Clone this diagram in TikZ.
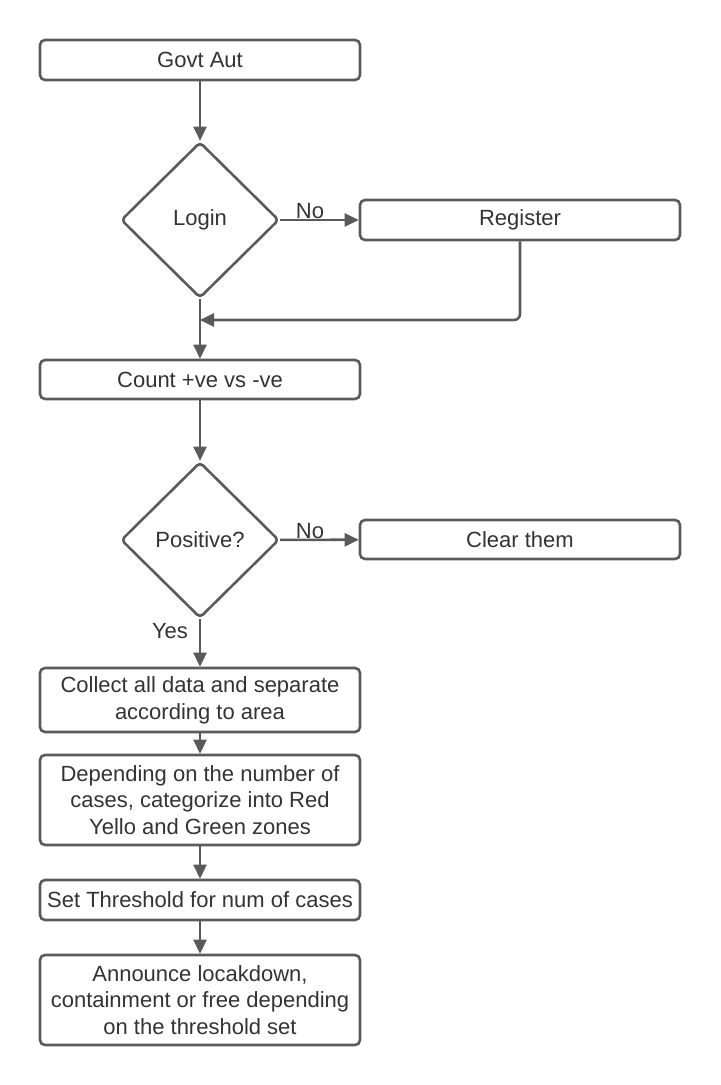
\documentclass[tikz,border=0pt]{standalone}
\usepackage{fontspec}
\setmainfont{Liberation Sans}
\usetikzlibrary{shapes.geometric,arrows.meta}
\definecolor{linegray}{HTML}{5A5A5A}
\definecolor{textgray}{HTML}{333333}
\tikzset{
  base/.style={draw=linegray, line width=1.3pt, text=textgray, font=\fontsize{11}{13.4}\selectfont, align=center, inner sep=0pt},
  procbox/.style={base, rectangle, rounded corners=2.5pt, minimum width=160pt},
  decision/.style={base, diamond, rounded corners=2pt, minimum width=79pt, minimum height=78pt},
  conn/.style={draw=linegray, line width=1.3pt, -{Triangle[length=7pt,width=6.5pt]}},
  lbl/.style={text=textgray, font=\fontsize{11}{13.4}\selectfont, inner sep=0pt}
}
\begin{document}
\begin{tikzpicture}[x=0.5pt,y=-0.5pt]
\useasboundingbox (0,0) rectangle (720,1085);
\node[procbox, minimum height=20pt] (govt) at (200,60) {Govt Aut};
\node[decision] (login) at (200,220) {Login};
\node[procbox, minimum height=20pt] (register) at (520,220) {Register};
\node[procbox, minimum height=19.5pt] (count) at (200,379.5) {Count +ve vs -ve};
\node[decision] (positive) at (200,540) {Positive?};
\node[procbox, minimum height=19.5pt] (clear) at (520,539.5) {Clear them};
\node[procbox, minimum height=32pt] (collect) at (200,700) {Collect all data and separate\\according to area};
\node[procbox, minimum height=45pt] (depending) at (200,800) {Depending on the number of\\cases, categorize into Red\\Yello and Green zones};
\node[procbox, minimum height=20pt] (setth) at (200,900) {Set Threshold for num of cases};
\node[procbox, minimum height=45pt] (announce) at (200,1000) {Announce locakdown,\\containment or free depending\\on the threshold set};
\coordinate (merge) at (200,320);
\draw[conn] (govt) -- (login);
\draw[conn] (login) -- (register);
\node[lbl] (nolbl1) at (310,211) {No};
\draw[conn, rounded corners=3pt] (register.south) |- (merge);
\draw[conn] (login) -- (count);
\draw[conn] (count) -- (positive);
\draw[conn] (positive) -- (clear);
\node[lbl] (nolbl2) at (310,531) {No};
\draw[conn] (positive) -- (collect);
\node[lbl] (yeslbl) at (170,631) {Yes};
\draw[conn] (collect) -- (depending);
\draw[conn] (depending) -- (setth);
\draw[conn] (setth) -- (announce);
\end{tikzpicture}
\end{document}
